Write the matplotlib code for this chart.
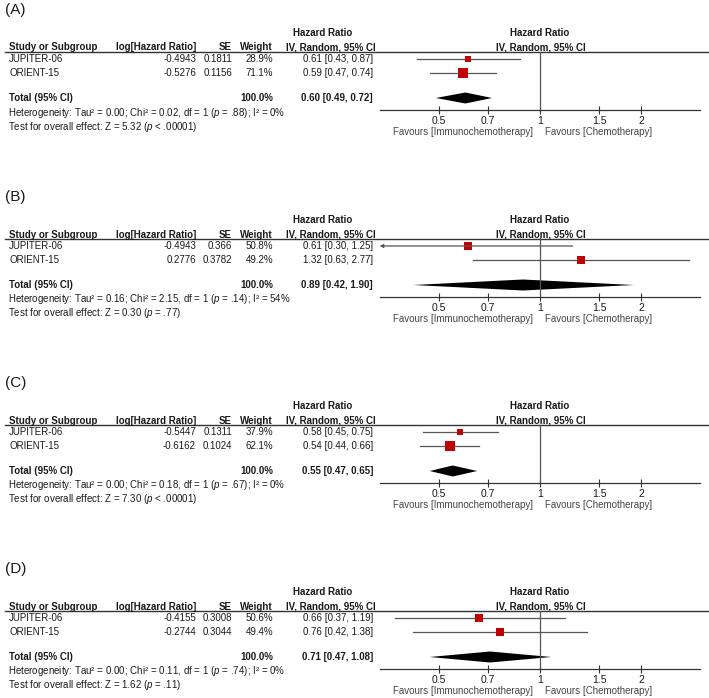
import numpy as np
import matplotlib.pyplot as plt
from matplotlib.ticker import NullLocator

plt.rcParams['font.family'] = ['Liberation Sans', 'DejaVu Sans']
plt.rcParams['mathtext.fontset'] = 'custom'
plt.rcParams['mathtext.rm'] = 'Liberation Sans'
plt.rcParams['mathtext.it'] = 'Liberation Sans:italic'

# data
panels = ['(A)', '(B)', '(C)', '(D)']
studies = ['JUPITER-06', 'ORIENT-15']
log_hr = [[-0.4943, -0.5276], [-0.4943, 0.2776], [-0.5447, -0.6162], [-0.4155, -0.2744]]
se = [[0.1811, 0.1156], [0.366, 0.3782], [0.1311, 0.1024], [0.3008, 0.3044]]
weight = [[28.9, 71.1], [50.8, 49.2], [37.9, 62.1], [50.6, 49.4]]
hr = [[0.61, 0.59], [0.61, 1.32], [0.58, 0.54], [0.66, 0.76]]
ci_lo = [[0.43, 0.47], [0.30, 0.63], [0.45, 0.44], [0.37, 0.42]]
ci_hi = [[0.87, 0.74], [1.25, 2.77], [0.75, 0.66], [1.19, 1.38]]
total_hr = [0.60, 0.89, 0.55, 0.71]
total_lo = [0.49, 0.42, 0.47, 0.47]
total_hi = [0.72, 1.90, 0.65, 1.08]
tau2 = ['0.00', '0.16', '0.00', '0.00']
chi2 = ['0.02', '2.15', '0.18', '0.11']
het_p = ['.88', '.14', '.67', '.74']
i2 = ['0%', '54%', '0%', '0%']
z_val = ['5.32', '0.30', '7.30', '1.62']
z_p = ['< .00001', '= .77', '< .00001', '= .11']
x_ticks = [0.5, 0.7, 1, 1.5, 2]
x_ticklabels = ['0.5', '0.7', '1', '1.5', '2']

W, H = 709, 698
fig = plt.figure(figsize=(W / 100, H / 100), dpi=100)
bg = fig.add_axes([0, 0, 1, 1])
bg.set_xlim(0, W)
bg.set_ylim(H, 0)
bg.axis('off')

offsets = [0, 187, 373, 559]
fs = 7.0
txt = '#1a1a1a'
line_c = '#555555'
red = '#c00000'
x0, x1 = 379.6, 700.4   # forest axis extent in px

for k in range(4):
    o = offsets[k]
    bg.text(5, 10 + o, panels[k], fontsize=11, va='center', ha='left', color=txt)
    bg.text(323, 33 + o, 'Hazard Ratio', fontsize=fs, fontweight='bold', ha='center', va='center', color=txt)
    bg.text(540, 33 + o, 'Hazard Ratio', fontsize=fs, fontweight='bold', ha='center', va='center', color=txt)
    hy = 47.5 + o
    bg.text(9, hy, 'Study or Subgroup', fontsize=fs, fontweight='bold', ha='left', va='center', color=txt)
    bg.text(196, hy, 'log[Hazard Ratio]', fontsize=fs, fontweight='bold', ha='right', va='center', color=txt)
    bg.text(232, hy, 'SE', fontsize=fs, fontweight='bold', ha='right', va='center', color=txt)
    bg.text(273, hy, 'Weight', fontsize=fs, fontweight='bold', ha='right', va='center', color=txt)
    bg.text(331, hy, 'IV, Random, 95% CI', fontsize=fs, fontweight='bold', ha='center', va='center', color=txt)
    bg.text(541, hy, 'IV, Random, 95% CI', fontsize=fs, fontweight='bold', ha='center', va='center', color=txt)
    bg.plot([5, W], [51.5 + o, 51.5 + o], color='#333333', lw=1)

    rows_y = [59, 73]
    for i in range(2):
        y = rows_y[i] + o
        bg.text(9, y, studies[i], fontsize=fs, ha='left', va='center', color=txt)
        bg.text(196, y, str(log_hr[k][i]), fontsize=fs, ha='right', va='center', color=txt)
        bg.text(232, y, str(se[k][i]), fontsize=fs, ha='right', va='center', color=txt)
        bg.text(273, y, f'{weight[k][i]:.1f}%', fontsize=fs, ha='right', va='center', color=txt)
        bg.text(373, y, f'{hr[k][i]:.2f} [{ci_lo[k][i]:.2f}, {ci_hi[k][i]:.2f}]', fontsize=fs,
                ha='right', va='center', color=txt)

    ty = 98 + o
    bg.text(9, ty, 'Total (95% CI)', fontsize=fs, fontweight='bold', ha='left', va='center', color=txt)
    bg.text(273, ty, '100.0%', fontsize=fs, fontweight='bold', ha='right', va='center', color=txt)
    bg.text(373, ty, f'{total_hr[k]:.2f} [{total_lo[k]:.2f}, {total_hi[k]:.2f}]', fontsize=fs,
            fontweight='bold', ha='right', va='center', color=txt)
    bg.text(8, 112.5 + o, f'Heterogeneity: Tau² = {tau2[k]}; Chi² = {chi2[k]}, df = 1 ($\\it{{p}}$ = {het_p[k]}); I² = {i2[k]}',
            fontsize=fs, ha='left', va='center', color=txt)
    bg.text(8, 126.5 + o, f'Test for overall effect: Z = {z_val[k]} ($\\it{{p}}$ {z_p[k]})',
            fontsize=fs, ha='left', va='center', color=txt)
    bg.text(533, 132 + o, 'Favours [Immunochemotherapy]', fontsize=fs, ha='right', va='center', color='#444444')
    bg.text(545, 132 + o, 'Favours [Chemotherapy]', fontsize=fs, ha='left', va='center', color='#444444')

    # forest plot
    ax = fig.add_axes([x0 / W, 1 - (110 + o) / H, (x1 - x0) / W, (110 - 51.5) / H])
    ax.set_facecolor('none')
    ax.set_xscale('log')
    ax.set_xlim(1 / 3, 3)
    ax.set_ylim(110, 51.5)
    ax.axvline(1, color=line_c, lw=0.9)
    for i in range(2):
        y = rows_y[i]
        lo = ci_lo[k][i]
        if lo < 1 / 3:
            ax.annotate('', xy=(1 / 3, y), xytext=(ci_hi[k][i], y), annotation_clip=False,
                        arrowprops=dict(arrowstyle='-|>', color=line_c, lw=0.9,
                                        mutation_scale=5, shrinkA=0, shrinkB=0))
        else:
            ax.plot([lo, ci_hi[k][i]], [y, y], color=line_c, lw=0.9)
        side = (2.5 + 0.105 * weight[k][i]) * 0.72
        ax.plot(hr[k][i], y, marker='s', ms=side, color=red, mec=red, mew=0)
    ax.fill([total_lo[k], total_hr[k], total_hi[k], total_hr[k]], [98, 92.5, 98, 103.5],
            color='black', lw=0)
    for s in ['left', 'top', 'right']:
        ax.spines[s].set_visible(False)
    ax.spines['bottom'].set_color('#333333')
    ax.spines['bottom'].set_linewidth(0.9)
    ax.set_yticks([])
    ax.xaxis.set_minor_locator(NullLocator())
    ax.set_xticks(x_ticks)
    ax.set_xticklabels(x_ticklabels)
    ax.tick_params(axis='x', direction='inout', length=6, width=0.8, color='#333333',
                   labelsize=7.5, labelcolor=txt, pad=1.5)

fig.savefig('out.png', dpi=100)
